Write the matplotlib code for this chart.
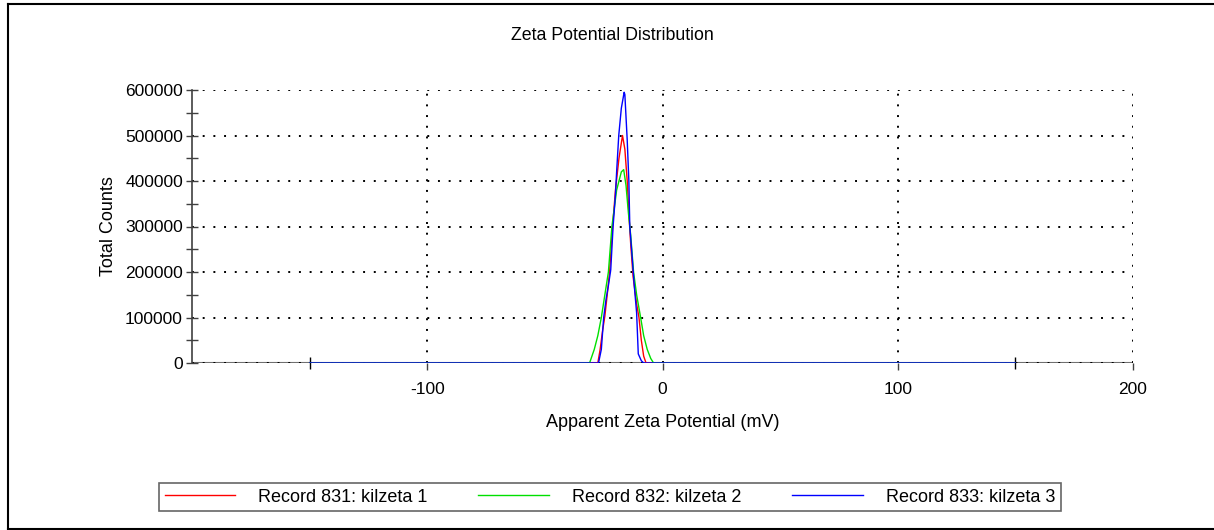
import matplotlib
matplotlib.use("Agg")
import matplotlib.pyplot as plt
from matplotlib.lines import Line2D
from matplotlib.ticker import MultipleLocator, FixedLocator

plt.rcParams['font.family'] = ['Liberation Sans', 'DejaVu Sans']

# Data (mV, counts)
x_831 = [-150, -27.5, -26.5, -25.5, -24.5, -23.5, -22.5, -21.2, -20, -18.5, -17, -16, -15, -14.2, -13.5, -12.5, -11, -10, -9, -8, -7, 150]
y_831 = [0, 0, 30000, 70000, 103000, 150000, 200000, 300000, 380000, 450000, 500000, 470000, 400000, 320000, 260000, 190000, 130000, 100000, 50000, 15000, 0, 0]

x_832 = [-150, -31, -29, -27.5, -26, -24.5, -23, -21.5, -19.5, -17.5, -16.5, -15.5, -14.5, -13.5, -12.3, -11, -9.3, -8, -6.5, -5, -3.8, 150]
y_832 = [0, 0, 30000, 60000, 100000, 150000, 200000, 300000, 380000, 420000, 425000, 390000, 330000, 280000, 200000, 150000, 100000, 60000, 30000, 10000, 0, 0]

x_833 = [-150, -27.2, -26, -25, -24, -23, -22, -21, -20, -19.5, -18.6, -17.5, -16.3, -16, -15, -14.3, -13.9, -13, -12, -11, -10.3, -9, -8, 150]
y_833 = [0, 0, 30000, 100000, 140000, 170000, 205000, 300000, 370000, 420000, 500000, 560000, 595000, 590000, 490000, 400000, 300000, 240000, 170000, 110000, 20000, 5000, 0, 0]

labels = ['Record 831: kilzeta 1', 'Record 832: kilzeta 2', 'Record 833: kilzeta 3']
colors = ['#ff0000', '#00e000', '#0000ff']
x_ticks = [-100, 0, 100, 200]
x_minor = [-150, 150]

W, H = 1214, 530
fig = plt.figure(figsize=(W / 100, H / 100), dpi=100)
ax = fig.add_axes([192 / W, 1 - 363 / H, (1133 - 192) / W, (363 - 90) / H])

ax.plot([-200, 200], [0, 0], color='#707070', lw=1.5, zorder=1)
for xs, ys, c in zip([x_831, x_832, x_833], [y_831, y_832, y_833], colors):
    ax.plot(xs, ys, color=c, lw=1.0, zorder=3)

ax.set_xlim(-200, 200)
ax.set_ylim(0, 600000)
ax.xaxis.set_major_locator(FixedLocator(x_ticks))
ax.xaxis.set_minor_locator(FixedLocator(x_minor))
ax.yaxis.set_major_locator(MultipleLocator(100000))
ax.yaxis.set_minor_locator(MultipleLocator(50000))
ax.set_xticklabels([str(v) for v in x_ticks])

for s in ['top', 'right', 'bottom']:
    ax.spines[s].set_visible(False)
ax.spines['left'].set_color('#404040')
ax.spines['left'].set_linewidth(1.2)

ax.grid(True, which='major', color='black', linestyle=(0, (1, 4.5)), linewidth=1.4)
ax.tick_params(axis='y', which='both', direction='inout', length=9, width=1, colors='#404040', labelcolor='black', labelsize=12.5, pad=2)
ax.tick_params(axis='x', which='major', direction='out', length=5, width=1, colors='#404040', labelcolor='black', labelsize=12.5, pad=9)
ax.tick_params(axis='x', which='minor', direction='inout', length=8, width=1, colors='black', bottom=True)

ax.set_xlabel('Apparent Zeta Potential (mV)', fontsize=13, labelpad=12)
ax.set_ylabel('Total Counts', fontsize=13, labelpad=6)
fig.text(612 / W, 1 - 36 / H, 'Zeta Potential Distribution', ha='center', va='center', fontsize=12.8)

handles = [Line2D([0], [0], color=c, lw=1) for c in colors]
leg = fig.legend(handles, labels, loc='center', bbox_to_anchor=(610 / W, 1 - 497 / H),
                 ncol=3, fontsize=13, frameon=True, fancybox=False, handlelength=3.9,
                 handletextpad=1.3, columnspacing=2.8, borderpad=0.3, borderaxespad=0,
                 edgecolor='#404040')
leg.get_frame().set_linewidth(1.2)

# outer border
fig.add_artist(Line2D([8 / W, 8 / W], [1 - 529 / H, 1 - 4 / H], color='black', lw=1.5, transform=fig.transFigure))
fig.add_artist(Line2D([8 / W, 1], [1 - 4 / H, 1 - 4 / H], color='black', lw=1.5, transform=fig.transFigure))
fig.add_artist(Line2D([8 / W, 1], [1 - 529 / H, 1 - 529 / H], color='black', lw=1.5, transform=fig.transFigure))

fig.savefig('out.png', dpi=100)
